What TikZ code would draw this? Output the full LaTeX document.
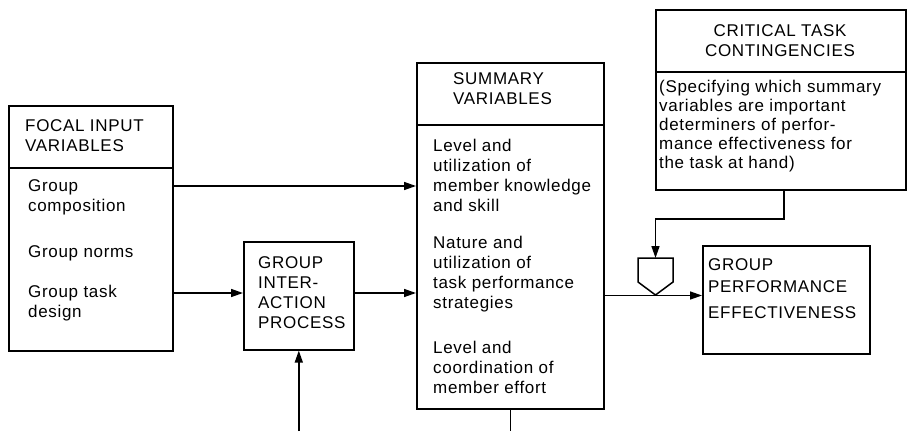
\documentclass[tikz,border=0pt]{standalone}
\usepackage{fontspec}
\setmainfont{Liberation Sans}[LetterSpace=4]
\usetikzlibrary{arrows.meta}
\begin{document}
\begin{tikzpicture}[x=1pt, y=-1pt,
  box/.style={draw, line width=1.6pt, inner sep=0pt, anchor=north west},
  txt/.style={anchor=west, inner sep=0pt, align=left, font=\fontsize{17}{20}\selectfont},
  arr/.style={-{Triangle[length=12pt,width=8pt]}, line width=1.5pt},
  wire/.style={line width=1.5pt}]
\useasboundingbox (0,0) rectangle (910,431);
\node[box, minimum width=164pt, minimum height=62pt] (focalhead) at (8,105) {};
\node[box, minimum width=164pt, minimum height=183pt] (focalbody) at (8,167) {};
\node[box, minimum width=110pt, minimum height=108pt] (gip) at (243,241) {};
\node[box, minimum width=187pt, minimum height=62pt] (sumhead) at (416,62) {};
\node[box, minimum width=187pt, minimum height=284pt] (sumbody) at (416,124) {};
\node[box, minimum width=250pt, minimum height=62pt] (crithead) at (655,9) {};
\node[box, minimum width=250pt, minimum height=118pt] (critbody) at (655,71) {};
\node[box, minimum width=167pt, minimum height=108pt] (perf) at (702,245) {};
\node[txt] (focaltitle) at (25,136) {FOCAL INPUT\\VARIABLES};
\node[txt] (comp) at (28,197.5) {Group\\composition};
\node[txt] (norms) at (28,253) {Group norms};
\node[txt] (design) at (28,303) {Group task\\design};
\node[txt] (giptext) at (258,293) {GROUP\\INTER-\\ACTION\\PROCESS};
\node[txt] (sumtitle) at (453,89) {SUMMARY\\VARIABLES};
\node[txt] (skill) at (433,175) {Level and\\utilization of\\member knowledge\\and skill};
\node[txt] (strat) at (433,274) {Nature and\\utilization of\\task performance\\strategies};
\node[txt] (effort) at (433,367.5) {Level and\\coordination of\\member effort};
\node[txt, anchor=center, align=center] (crittitle) at (780,41) {CRITICAL TASK\\CONTINGENCIES};
\node[txt, font=\fontsize{17}{19}\selectfont] (crittext) at (659,126) {(Specifying which summary\\variables are important\\determiners of perfor-\\mance effectiveness for\\the task at hand)};
\node[txt, font=\fontsize{17}{22}\selectfont] (perftext) at (708,289) {GROUP\\PERFORMANCE\\[4pt]EFFECTIVENESS};
\draw[wire, fill=white] (638,258) -- (673,258) -- (673,282) -- (655.5,295) -- (638,282) -- cycle;
\coordinate (gate) at (655.5,258);
\coordinate (r1) at (0,186);
\coordinate (r2) at (0,293);
\coordinate (r3) at (0,295.5);
\coordinate (r4) at (0,219);
\coordinate (bot) at (0,431);
\draw[arr] (focalbody.east |- r1) -- (sumbody.west |- r1);
\draw[arr] (focalbody.east |- r2) -- (gip.west |- r2);
\draw[arr] (gip.east |- r2) -- (sumbody.west |- r2);
\draw[arr] (sumbody.east |- r3) -- (perf.west |- r3);
\draw[arr] (gip.south |- bot) -- (gip.south);
\draw[wire] (sumbody.south) -- (sumbody.south |- bot);
\draw[arr] ([xshift=3pt]critbody.south) |- (gate |- r4) -- (gate);
\end{tikzpicture}
\end{document}
